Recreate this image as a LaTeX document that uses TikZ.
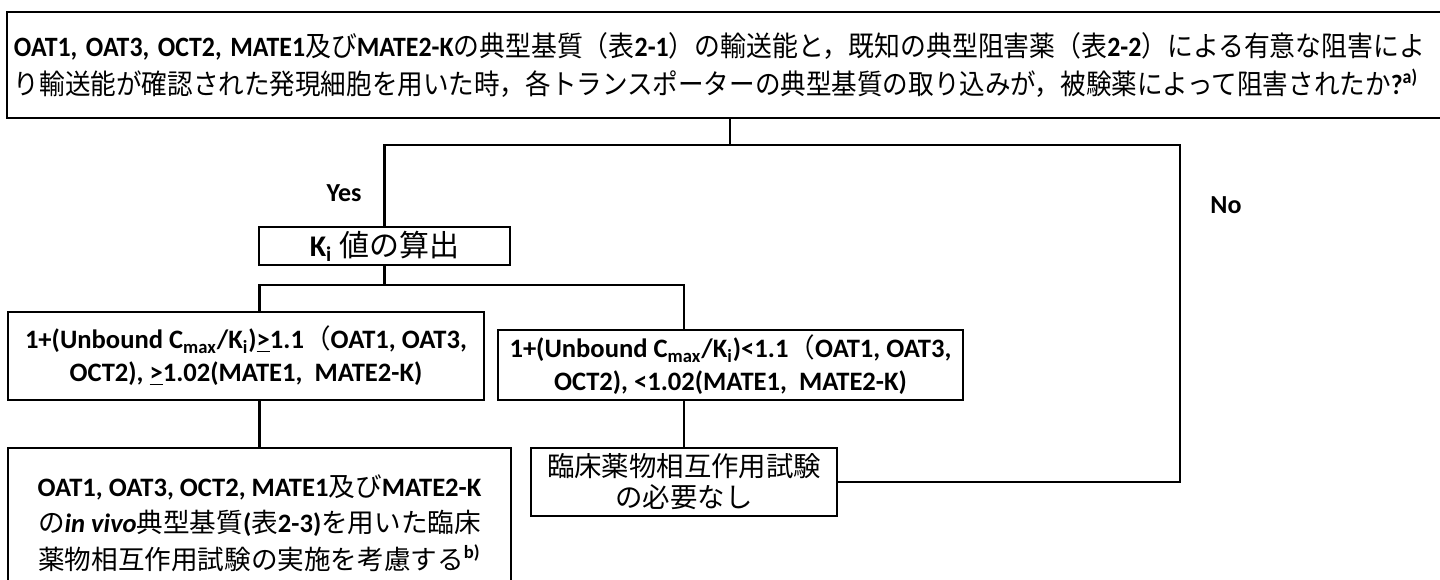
\documentclass[tikz,border=0pt]{standalone}
\usepackage{fontspec}
\usepackage{graphicx}
\setmainfont{Carlito}
\newfontfamily\jp{Noto Sans CJK JP}
\newcommand\J[1]{{\jp\mdseries #1}}
\newcommand\fs{\fontsize{13}{18.25}\selectfont\bfseries}
\newcommand\fitline[2]{\resizebox{#1}{\height}{#2}}
\tikzset{
  box/.style={draw, line width=1.3pt, inner sep=0pt, align=center, font=\fs},
  conn/.style={line width=1.3pt},
  thinconn/.style={line width=0.6pt},
  lbl/.style={font=\fs, inner sep=0pt}
}
\begin{document}
\begin{tikzpicture}[x=0.5pt,y=-0.5pt]
\useasboundingbox (0,0) rectangle (1440,579);
\fill[white] (0,0) rectangle (1440,579);
\clip (0,0) rectangle (1440,579);
% question box (right edge beyond the page)
\node[box, minimum width=719pt, minimum height=53pt, text width=712pt, align=left,
      font=\fontsize{14}{18.75}\selectfont\bfseries] (q) at (726,65)
 {\fitline{705.5pt}{OAT1, OAT3, OCT2, MATE1\J{及び}MATE2-K\J{の典型基質（表}2-1\J{）の輸送能と，既知の典型阻害薬（表}2-2\J{）による有意な阻害によ}}\\
  \fitline{702pt}{\J{り輸送能が確認された発現細胞を用いた時，各トランスポーターの典型基質の取り込みが，被験薬によって阻害されたか}?\textsuperscript{a)}}};
\node[box, minimum width=125.5pt, minimum height=19pt,
      font=\fontsize{15}{18}\selectfont\bfseries] (ki) at (384.5,246)
 {K\textsubscript{i} \J{値の算出}};
\node[box, minimum width=238pt, minimum height=44pt,
      font=\fontsize{13.3}{16.5}\selectfont\bfseries] (cl) at (246,356)
 {1+(Unbound C\textsubscript{max}/K\textsubscript{i})\underline{>}1.1\J{（}OAT1, OAT3,\\
  OCT2), \underline{>}1.02(MATE1,\ \ MATE2-K)};
\node[box, minimum width=232.5pt, minimum height=35pt,
      font=\fontsize{13.3}{16.5}\selectfont\bfseries] (cr) at (730.5,365)
 {1+(Unbound C\textsubscript{max}/K\textsubscript{i})<1.1\J{（}OAT1, OAT3,\\
  OCT2), <1.02(MATE1,\ \ MATE2-K)};
\node[box, minimum width=251.5pt, minimum height=75pt,
      font=\fontsize{13.3}{18.25}\selectfont\bfseries] (bl) at (259.5,523)
 {OAT1, OAT3, OCT2, MATE1\J{及び}MATE2-K\\
  \J{の}\textit{in vivo}\J{典型基質}(\J{表}2-3)\J{を用いた臨床}\\
  \J{薬物相互作用試験の実施を考慮する}\textsuperscript{b)}};
\node[box, minimum width=153pt, minimum height=34pt,
      font=\fontsize{13.7}{15.5}\selectfont\bfseries] (br) at (684,482)
 {\J{臨床薬物相互作用試験}\\\J{の必要なし}};
\node[lbl] (yes) at (344,193) {Yes};
\node[lbl] (no) at (1226,205) {No};
% connectors
\coordinate (j1) at (730,145);
\coordinate (nocorner) at (1180,145);
\coordinate (j2) at (384.5,285);
\draw[thinconn] (q.south -| j1) -- (j1);
\draw[conn] (ki.north) |- (nocorner) |- (br.east);
\draw[conn] (ki.south) -- (j2);
\draw[conn] (cl.north -| bl.north) -- (bl.north |- j2) -- (br.north |- j2) -- (cr.north -| br.north);
\draw[conn] (cl.south -| bl.north) -- (bl.north);
\draw[conn] (cr.south -| br.north) -- (br.north);
\end{tikzpicture}
\end{document}
